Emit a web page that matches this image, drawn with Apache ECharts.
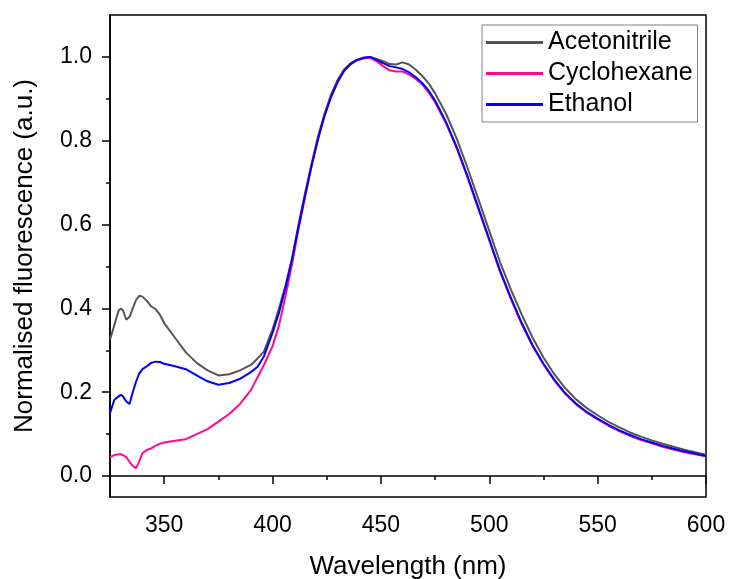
<!DOCTYPE html>
<html>
<head>
<meta charset="utf-8">
<script src="https://cdn.jsdelivr.net/npm/echarts@6/dist/echarts.min.js"></script>
<style>
html, body { margin: 0; padding: 0; background: #fff; }
#chart { width: 729px; height: 579px; }
</style>
</head>
<body>
<div id="chart"></div>
<script>
var wavelengths = [325, 327, 329, 330, 331, 332.5, 334, 335.5, 337, 338.5, 340, 342, 344, 346, 348, 350,
    355, 360, 365, 370, 375, 380, 385, 390, 393, 396, 400, 403, 406, 409, 412, 415, 418, 421, 424, 427,
    430, 433, 436, 439, 442, 445, 448, 451, 454, 457, 460, 463, 466, 469, 472, 475, 480, 485, 490, 495,
    500, 505, 510, 515, 520, 525, 530, 535, 540, 545, 550, 555, 560, 565, 570, 575, 580, 585, 590, 595, 600];

var acetonitrile = [0.325, 0.36, 0.395, 0.40, 0.395, 0.373, 0.38, 0.40, 0.42, 0.43, 0.428, 0.418, 0.405, 0.398, 0.385, 0.365,
    0.33, 0.295, 0.27, 0.252, 0.24, 0.243, 0.252, 0.265, 0.28, 0.297, 0.35, 0.40, 0.455, 0.52, 0.60, 0.675, 0.745, 0.81, 0.865, 0.91,
    0.945, 0.97, 0.985, 0.993, 0.998, 1.0, 0.995, 0.99, 0.983, 0.982, 0.987, 0.982, 0.97, 0.955, 0.937, 0.913, 0.865, 0.805, 0.735, 0.66,
    0.585, 0.51, 0.445, 0.385, 0.33, 0.283, 0.243, 0.21, 0.183, 0.162, 0.145, 0.129, 0.116, 0.104, 0.094, 0.085, 0.077, 0.07, 0.063, 0.057, 0.051];

var cyclohexane = [0.045, 0.05, 0.052, 0.052, 0.05, 0.045, 0.034, 0.024, 0.019, 0.035, 0.055, 0.062, 0.066, 0.072, 0.077, 0.08,
    0.084, 0.088, 0.10, 0.112, 0.13, 0.148, 0.172, 0.205, 0.235, 0.265, 0.31, 0.36, 0.43, 0.505, 0.59, 0.665, 0.74, 0.805, 0.86, 0.905,
    0.94, 0.967, 0.983, 0.992, 0.996, 0.998, 0.99, 0.978, 0.968, 0.965, 0.965, 0.958, 0.948, 0.935, 0.915, 0.892, 0.842, 0.782, 0.712, 0.637,
    0.562, 0.487, 0.422, 0.362, 0.31, 0.266, 0.228, 0.196, 0.171, 0.151, 0.135, 0.12, 0.107, 0.096, 0.086, 0.078, 0.07, 0.063, 0.057, 0.052, 0.047];

var ethanol = [0.15, 0.182, 0.19, 0.194, 0.19, 0.178, 0.172, 0.20, 0.225, 0.245, 0.255, 0.262, 0.27, 0.273, 0.272, 0.268,
    0.262, 0.255, 0.24, 0.226, 0.218, 0.222, 0.232, 0.248, 0.26, 0.285, 0.342, 0.39, 0.45, 0.517, 0.595, 0.67, 0.74, 0.805, 0.86, 0.905,
    0.94, 0.967, 0.983, 0.993, 0.998, 1.0, 0.993, 0.985, 0.978, 0.975, 0.971, 0.963, 0.952, 0.938, 0.92, 0.896, 0.845, 0.785, 0.715, 0.64,
    0.565, 0.49, 0.425, 0.365, 0.312, 0.268, 0.23, 0.198, 0.173, 0.153, 0.137, 0.122, 0.109, 0.098, 0.088, 0.08, 0.072, 0.065, 0.059, 0.054, 0.048];

var xMajorTicks = [350, 400, 450, 500, 550, 600];
var xMinorTicks = [325, 375, 425, 475, 525, 575];
var yMajorTicks = [0, 0.2, 0.4, 0.6, 0.8, 1.0];
var yMinorTicks = [0.1, 0.3, 0.5, 0.7, 0.9];

var font = '"Liberation Sans", Arial, sans-serif';

function pairs(vals) {
    return wavelengths.map(function (w, i) { return [w, vals[i]]; });
}

var myChart = echarts.init(document.getElementById('chart'));

var option = {
    backgroundColor: '#fff',
    animation: false,
    grid: {
        left: 110, right: 23, top: 15, bottom: 82,
        outerBoundsMode: 'none', containLabel: false,
        show: true, borderColor: '#000', borderWidth: 1.5
    },
    legend: {
        orient: 'vertical',
        left: 482, top: 25,
        padding: [5, 5, 5, 4],
        borderColor: '#808080', borderWidth: 1,
        itemWidth: 57, itemHeight: 3, itemGap: 6,
        icon: 'rect',
        textStyle: { fontFamily: font, fontSize: 25, color: '#000', lineHeight: 25 },
        data: ['Acetonitrile', 'Cyclohexane', 'Ethanol']
    },
    xAxis: [{
        type: 'value', min: 325, max: 600, position: 'bottom',
        name: 'Wavelength (nm)', nameLocation: 'middle', nameGap: 57,
        nameTextStyle: { fontFamily: font, fontSize: 26, color: '#000' },
        axisLine: { lineStyle: { color: '#000', width: 1.5 } },
        axisTick: { inside: false, length: 8, customValues: xMajorTicks, lineStyle: { color: '#000', width: 1.5 } },
        axisLabel: { customValues: xMajorTicks, margin: 17, fontFamily: font, fontSize: 23, color: '#000' },
        splitLine: { show: false }
    }, {
        type: 'value', min: 325, max: 600, position: 'bottom',
        axisLine: { show: false },
        axisTick: { length: 4, customValues: xMinorTicks, lineStyle: { color: '#000', width: 1.5 } },
        axisLabel: { show: false },
        splitLine: { show: false }
    }],
    yAxis: [{
        type: 'value', min: -0.05, max: 1.1, position: 'left',
        name: 'Normalised fluorescence (a.u.)', nameLocation: 'middle', nameGap: 72,
        nameTextStyle: { fontFamily: font, fontSize: 26, color: '#000' },
        axisLine: { show: true, lineStyle: { color: '#000', width: 1.5 } },
        axisTick: { show: true, length: 8, customValues: yMajorTicks, lineStyle: { color: '#000', width: 1.5 } },
        axisLabel: {
            customValues: yMajorTicks, margin: 18, fontFamily: font, fontSize: 23, color: '#000',
            formatter: function (v) { return v.toFixed(1); }
        },
        splitLine: { show: false }
    }, {
        type: 'value', min: -0.05, max: 1.1, position: 'left',
        axisLine: { show: false },
        axisTick: { show: true, length: 4, customValues: yMinorTicks, lineStyle: { color: '#000', width: 1.5 } },
        axisLabel: { show: false },
        splitLine: { show: false }
    }],
    series: [{
        name: 'Acetonitrile', type: 'line', data: pairs(acetonitrile),
        showSymbol: false, smooth: false,
        lineStyle: { color: '#555555', width: 2 }, itemStyle: { color: '#555555' }
    }, {
        name: 'Cyclohexane', type: 'line', data: pairs(cyclohexane),
        showSymbol: false, smooth: false,
        lineStyle: { color: '#ff0a8c', width: 2 }, itemStyle: { color: '#ff0a8c' }
    }, {
        name: 'Ethanol', type: 'line', data: pairs(ethanol),
        showSymbol: false, smooth: false,
        lineStyle: { color: '#0000ff', width: 2 }, itemStyle: { color: '#0000ff' }
    }]
};

myChart.setOption(option);
</script>
</body>
</html>
